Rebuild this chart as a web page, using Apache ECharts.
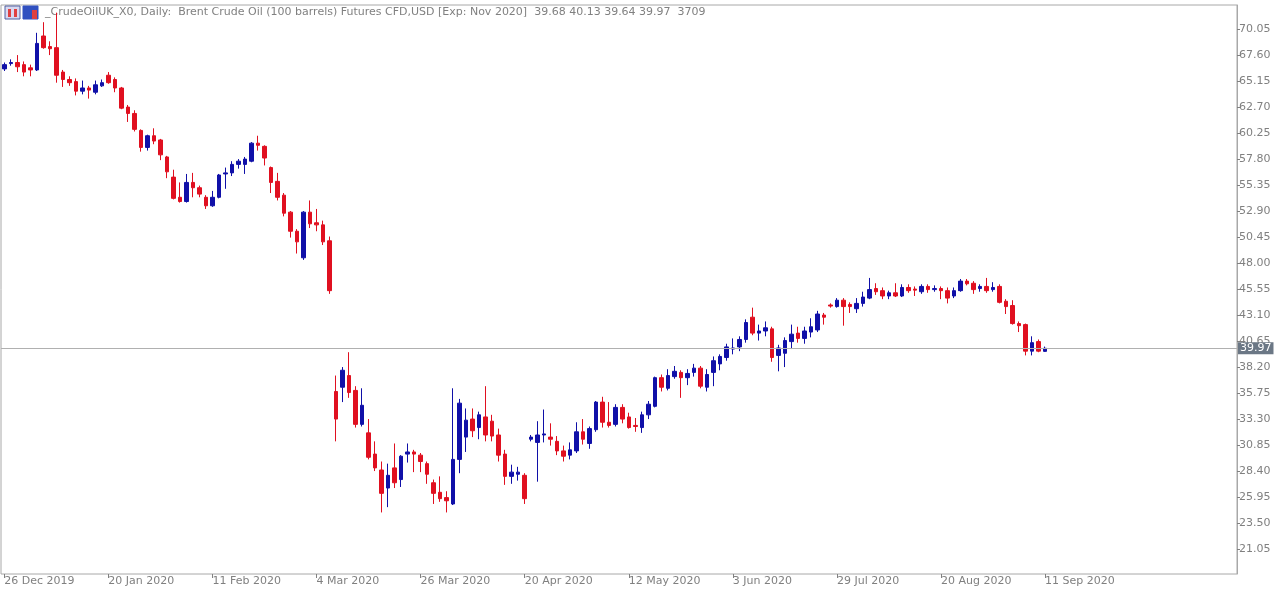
<!DOCTYPE html>
<html><head><meta charset="utf-8">
<script src="https://cdn.jsdelivr.net/npm/echarts@6/dist/echarts.min.js"></script>
<style>html,body{margin:0;padding:0;background:#fff}#c{width:1280px;height:595px}</style>
</head><body><div id="c"></div>
<script>
const opens=[66.3,66.8,66.9,66.7,66.4,66.2,69.4,68.4,68.3,66.0,
65.3,65.1,64.2,64.5,64.1,64.7,65.7,65.3,64.5,62.7,
62.1,60.5,58.9,60.0,59.6,58.0,56.1,54.2,53.8,55.6,
55.1,54.2,53.4,54.2,56.4,56.5,57.3,57.3,57.6,59.3,
59.0,57.0,55.7,54.4,52.8,51.0,48.5,52.8,51.8,51.6,
50.1,35.9,36.3,37.4,36.0,32.8,32.0,30.0,28.5,26.8,
28.7,27.6,30.0,30.2,29.9,29.1,27.3,26.4,25.9,25.3,
29.5,31.6,33.3,32.5,33.5,33.1,31.8,30.0,27.9,28.1,
28.0,31.4,31.1,31.8,31.6,31.2,30.3,29.9,30.3,32.1,
31.0,32.3,34.9,33.0,32.8,34.4,33.5,32.7,32.5,33.7,
34.5,37.2,36.2,37.3,37.7,37.2,37.7,38.1,36.3,37.7,
38.5,39.1,39.9,40.1,40.8,42.9,41.4,41.6,41.8,39.3,
39.5,40.6,41.4,40.9,41.5,41.7,43.1,44.05,43.9,44.5,
44.1,43.7,44.2,44.7,45.6,45.4,44.9,45.2,44.9,45.7,
45.55,45.3,45.8,45.5,45.6,45.4,44.9,45.4,46.3,46.1,
45.6,45.8,45.5,45.8,44.4,44.0,42.3,42.2,39.7,40.6,
39.68];
const closes=[66.7,66.9,66.5,66.0,66.2,68.7,68.3,68.2,65.7,65.3,
65.0,64.2,64.5,64.3,64.8,65.0,65.0,64.5,62.6,62.1,
60.6,58.9,60.0,59.5,58.2,56.6,54.1,53.8,55.6,55.1,
54.5,53.4,54.2,56.3,56.5,57.3,57.6,57.8,59.3,59.1,
57.9,55.6,54.2,52.7,51.0,50.0,52.8,51.7,51.6,50.0,
45.4,33.3,37.9,35.8,32.8,34.6,29.7,28.7,26.3,28.0,
27.3,29.8,30.2,30.0,29.3,28.1,26.3,25.8,25.6,29.5,
34.8,33.2,32.2,33.7,31.8,31.7,29.9,27.9,28.3,28.3,
25.8,31.6,31.8,31.9,31.4,30.3,29.8,30.4,32.1,31.4,
32.4,34.9,33.0,32.7,34.4,33.3,32.5,32.6,33.7,34.7,
37.2,36.3,37.4,37.8,37.2,37.6,38.1,36.4,37.5,38.8,
39.2,40.1,40.0,40.8,42.4,41.4,41.6,41.9,39.1,40.0,
40.7,41.3,40.9,41.6,42.0,43.2,42.9,43.95,44.5,43.9,
43.9,44.2,44.8,45.5,45.3,44.9,45.2,44.9,45.7,45.4,
45.45,45.8,45.5,45.6,45.4,44.7,45.4,46.3,46.05,45.5,
45.8,45.4,45.7,44.3,43.9,42.3,42.1,39.7,40.5,39.7,
39.97];
const lows=[66.1,66.6,66.0,65.6,65.6,66.1,68.2,67.6,65.0,64.6,
64.7,63.8,63.9,63.5,63.9,64.6,64.9,64.1,62.5,61.3,
60.4,58.5,58.6,59.2,57.7,56.0,54.0,53.7,53.7,54.2,
54.2,53.1,53.3,54.1,55.0,56.2,56.9,56.4,57.5,58.6,
57.2,54.6,53.9,52.4,50.4,48.9,48.3,51.3,51.0,49.7,
45.1,31.2,34.9,35.3,32.5,32.6,29.5,28.4,24.5,25.0,
26.8,26.9,29.2,28.3,28.3,27.2,25.3,25.5,24.5,25.2,
28.2,30.2,31.6,31.4,31.2,31.2,29.3,27.1,27.2,27.5,
25.3,31.2,27.4,31.1,30.8,29.9,29.3,29.5,30.1,30.9,
30.5,32.1,32.5,32.5,32.6,32.9,32.4,32.1,32.0,33.3,
34.4,35.9,36.0,37.1,35.3,36.5,37.3,36.2,35.9,36.4,
37.9,38.8,39.4,39.7,40.5,41.2,40.7,41.1,38.7,37.8,
38.2,39.9,40.5,40.4,41.0,41.5,42.2,43.8,43.8,42.1,
43.3,43.3,43.9,44.6,45.0,44.6,44.6,44.8,44.8,45.2,
44.9,45.1,45.2,45.3,44.6,44.2,44.7,45.3,45.9,45.1,
45.3,45.2,45.3,44.2,43.2,42.2,41.5,39.3,39.3,39.6,
39.64];
const highs=[66.9,67.2,67.6,67.0,66.7,69.7,70.7,68.9,71.6,66.2,
65.6,65.4,65.2,64.7,65.2,65.3,66.0,65.5,64.6,62.9,
62.4,60.6,60.1,60.7,59.7,58.1,56.8,55.6,56.4,56.5,
55.3,54.4,54.8,56.4,57.0,57.6,57.8,58.0,59.4,60.0,
59.1,57.1,56.5,54.6,52.9,51.2,52.9,53.9,53.1,52.0,
50.5,37.4,38.2,39.6,36.4,36.2,33.3,31.2,29.3,29.1,
31.0,29.9,31.0,30.4,30.1,29.3,27.6,27.9,26.5,36.2,
35.2,34.3,34.3,34.0,36.4,33.7,32.4,30.4,29.0,28.8,
28.2,31.8,33.1,34.2,32.9,31.7,30.8,31.1,33.0,33.3,
32.6,35.0,35.4,34.9,34.7,34.7,33.9,33.4,34.0,35.0,
37.3,37.5,38.0,38.3,37.9,38.0,38.5,38.3,38.0,39.2,
39.4,40.4,40.9,41.1,42.7,43.8,42.2,42.5,42.0,40.3,
41.0,42.2,42.0,42.0,42.8,43.5,43.3,44.2,44.7,44.7,
44.3,44.7,45.3,46.6,46.1,45.7,45.4,46.1,46.0,46.0,
45.8,46.0,46.0,45.9,45.8,45.7,45.7,46.5,46.5,46.3,
46.0,46.6,46.2,46.0,44.6,44.5,42.5,42.3,41.1,40.8,
40.13];
const dateLabels=['26 Dec 2019','20 Jan 2020','11 Feb 2020','4 Mar 2020','26 Mar 2020','20 Apr 2020','12 May 2020','3 Jun 2020','29 Jul 2020','20 Aug 2020','11 Sep 2020'];
const dateLabelStep=16;
const priceTicks=[21.05,23.50,25.95,28.40,30.85,33.30,35.75,38.20,40.65,43.10,45.55,48.00,50.45,52.90,55.35,57.80,60.25,62.70,65.15,67.60,70.05];
const lastPrice=39.97;
const totalSlots=190;
const title='_CrudeOilUK_X0, Daily:  Brent Crude Oil (100 barrels) Futures CFD,USD [Exp: Nov 2020]  39.68 40.13 39.64 39.97  3709';

const cats=[];for(let i=0;i<totalSlots;i++)cats.push(String(i));
const data=opens.map((o,i)=>[o,closes[i],lows[i],highs[i]]);
const showIdx=i=>i%dateLabelStep===0 && i/dateLabelStep<dateLabels.length;
const chart=echarts.init(document.getElementById('c'));
chart.setOption({
  animation:false,
  grid:{left:1,top:5,right:43,bottom:21,show:true,borderColor:'#a8a8a8',borderWidth:1},
  graphic:[
    {type:'rect',shape:{x:5,y:6,width:15,height:13},style:{fill:'#d8d8f0',stroke:'#5060a0'}},
    {type:'rect',shape:{x:8,y:9,width:3,height:8},style:{fill:'#e04040'}},
    {type:'rect',shape:{x:14,y:9,width:3,height:8},style:{fill:'#e04040'}},
    {type:'rect',shape:{x:23,y:6,width:15,height:13},style:{fill:'#3050c0',stroke:'#3050c0'}},
    {type:'rect',shape:{x:32,y:10,width:5,height:9},style:{fill:'#e04040'}},
    {type:'text',left:45,top:7,style:{text:title,fill:'#808080',font:'11px "DejaVu Sans"'}}
  ],
  xAxis:{type:'category',data:cats,boundaryGap:true,
    axisLine:{show:false},
    axisTick:{show:true,length:4,inside:false,alignWithLabel:true,interval:(i)=>showIdx(i),lineStyle:{color:'#808080'}},
    axisLabel:{interval:(i)=>showIdx(i),align:'left',margin:2,color:'#808080',fontSize:11,fontFamily:'DejaVu Sans',
      formatter:(v)=>{const i=+v;return showIdx(i)?dateLabels[i/dateLabelStep]:'';}},
    splitLine:{show:false}},
  yAxis:{type:'value',position:'right',min:18.70,max:72.32,scale:true,
    axisLine:{show:true,lineStyle:{color:'#a8a8a8'}},
    axisTick:{show:true,length:3,customValues:priceTicks,lineStyle:{color:'#808080'}},
    axisLabel:{customValues:priceTicks,color:'#808080',fontSize:11,fontFamily:'DejaVu Sans',margin:2,formatter:v=>v.toFixed(2)},
    splitLine:{show:false}},
  series:[{type:'candlestick',data:data,barWidth:4,
    itemStyle:{color:'#1010a8',color0:'#e01020',borderColor:'#1010a8',borderColor0:'#e01020',borderWidth:1},
    markLine:{silent:true,symbol:'none',animation:false,
      lineStyle:{color:'#b0b0b0',type:'solid',width:1},
      label:{show:true,position:'end',distance:1,formatter:lastPrice.toFixed(2),color:'#fff',backgroundColor:'#6b7785',padding:[1,2,0,2],fontSize:11,fontFamily:'DejaVu Sans'},
      data:[{yAxis:lastPrice}]}}]
});
</script></body></html>
